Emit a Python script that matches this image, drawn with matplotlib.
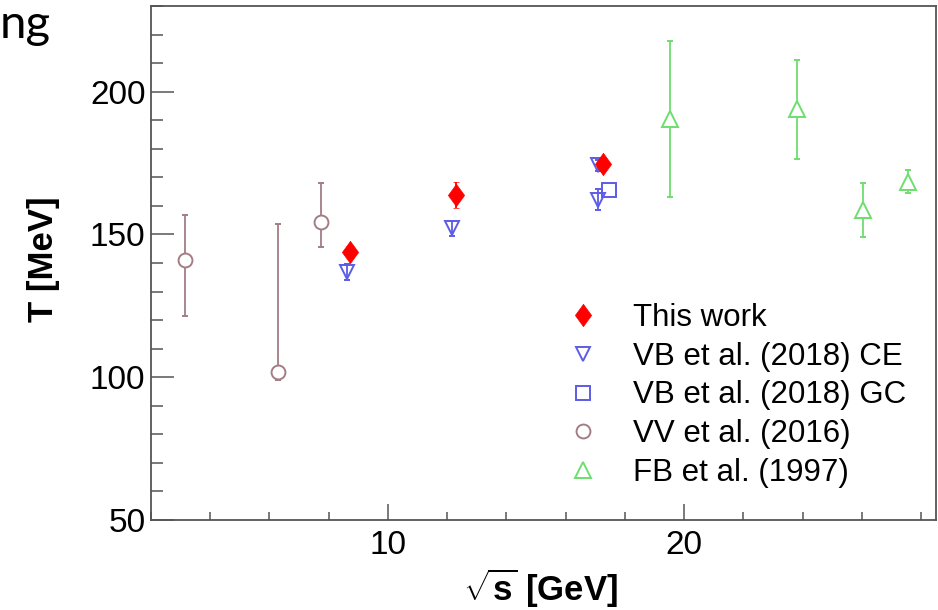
import matplotlib
matplotlib.use("Agg")
import matplotlib.pyplot as plt
from matplotlib.ticker import MultipleLocator

plt.rcParams['font.family'] = ['Liberation Sans', 'DejaVu Sans']
plt.rcParams['mathtext.fontset'] = 'custom'
plt.rcParams['mathtext.rm'] = 'Liberation Sans:bold'
plt.rcParams['mathtext.it'] = 'Liberation Sans:bold'
plt.rcParams['mathtext.bf'] = 'Liberation Sans:bold'

# This work
this_x = [8.71, 12.28, 17.25]
this_y = [143.7, 163.8, 174.6]
this_err = [2.0, 4.4, 2.0]

# VB et al. (2018) CE
ce_x = [8.60, 12.15, 17.10, 17.08]
ce_y = [136.8, 152.1, 162.2, 174.2]
ce_err = [2.8, 2.6, 3.6, 2.0]

# VB et al. (2018) GC
gc_x = [17.45]
gc_y = [165.4]

# VV et al. (2016)
vv_x = [3.16, 6.29, 7.74]
vv_y = [141.1, 101.7, 154.4]
vv_lo = [19.8, 2.6, 8.8]
vv_hi = [15.7, 51.8, 13.7]

# FB et al. (1997)
fb_x = [19.53, 23.82, 26.04, 27.55]
fb_y = [190.3, 193.8, 158.5, 168.5]
fb_err = [27.3, 17.3, 9.5, 4.0]

RED = "#ff0000"
BLUE = "#5c5ce6"
BROWN = "#a37d85"
GREEN = "#6ede6e"

# ROOT-like full diamond
diamond = [(0, 1), (0.73, 0), (0, -1), (-0.73, 0), (0, 1)]

fig = plt.figure(figsize=(9.38, 6.1), dpi=100)
ax = fig.add_axes([151 / 938, 1 - 520 / 610, 785 / 938, 514 / 610])

eb = dict(capsize=2.5, elinewidth=1.3, capthick=1.3, linestyle='none')

vv = ax.errorbar(vv_x, vv_y, yerr=[vv_lo, vv_hi], marker='o', ms=10, mfc='white',
                 mec=BROWN, mew=1.4, color=BROWN, **eb)
fb = ax.errorbar(fb_x, fb_y, yerr=fb_err, marker='^', ms=12, mfc='white',
                 mec=GREEN, mew=1.4, color=GREEN, **eb)
ce = ax.errorbar(ce_x, ce_y, yerr=ce_err, marker='v', ms=10, mfc='none',
                 mec=BLUE, mew=1.4, color=BLUE, **eb)
gc = ax.errorbar(gc_x, gc_y, marker='s', ms=10, mfc='none',
                 mec=BLUE, mew=1.4, color=BLUE, linestyle='none')
tw = ax.errorbar(this_x, this_y, yerr=this_err, marker=diamond, ms=16, mfc=RED,
                 mec=RED, mew=0.5, color=RED, **eb)

ax.set_xlim(2.0, 28.5)
ax.set_ylim(50, 230)

ax.xaxis.set_major_locator(MultipleLocator(10))
ax.xaxis.set_minor_locator(MultipleLocator(2))
ax.yaxis.set_major_locator(MultipleLocator(50))
ax.yaxis.set_minor_locator(MultipleLocator(10))

ax.tick_params(axis='both', which='both', direction='in', width=1.1,
               color='#555555', labelsize=24, top=False, right=False)
ax.tick_params(axis='y', which='major', length=16.5, pad=4)
ax.tick_params(axis='y', which='minor', length=8.6)
ax.tick_params(axis='x', which='major', length=11.5, pad=7)
ax.tick_params(axis='x', which='minor', length=5.8)

for sp in ax.spines.values():
    sp.set_color('#555555')
    sp.set_linewidth(1.3)

fig.text(44 / 938, 1 - 259 / 610, "T [MeV]", rotation=90, ha='center', va='center',
         fontsize=25, fontweight='bold')
fig.text(541 / 938, 1 - 588 / 610, r"$\sqrt{s}$ [GeV]", ha='center', va='center',
         fontsize=25, fontweight='bold')

# slide text at top-left
fig.text(0.0, 1 - 38 / 610, "ng", fontsize=34, family='Lato', va='baseline', ha='left')

handles = [tw[0], ce[0], gc[0], vv[0], fb[0]]
labels = ["This work", "VB et al. (2018) CE", "VB et al. (2018) GC",
          "VV et al. (2016)", "FB et al. (1997)"]
ax.legend(handles, labels, loc='upper left', bbox_to_anchor=(567 / 938, 1 - 303 / 610),
          bbox_transform=fig.transFigure, frameon=False, fontsize=22.5, numpoints=1,
          handlelength=1.0, handletextpad=1.1, labelspacing=0.28, borderpad=0,
          borderaxespad=0)

fig.savefig("out.png", dpi=100)
